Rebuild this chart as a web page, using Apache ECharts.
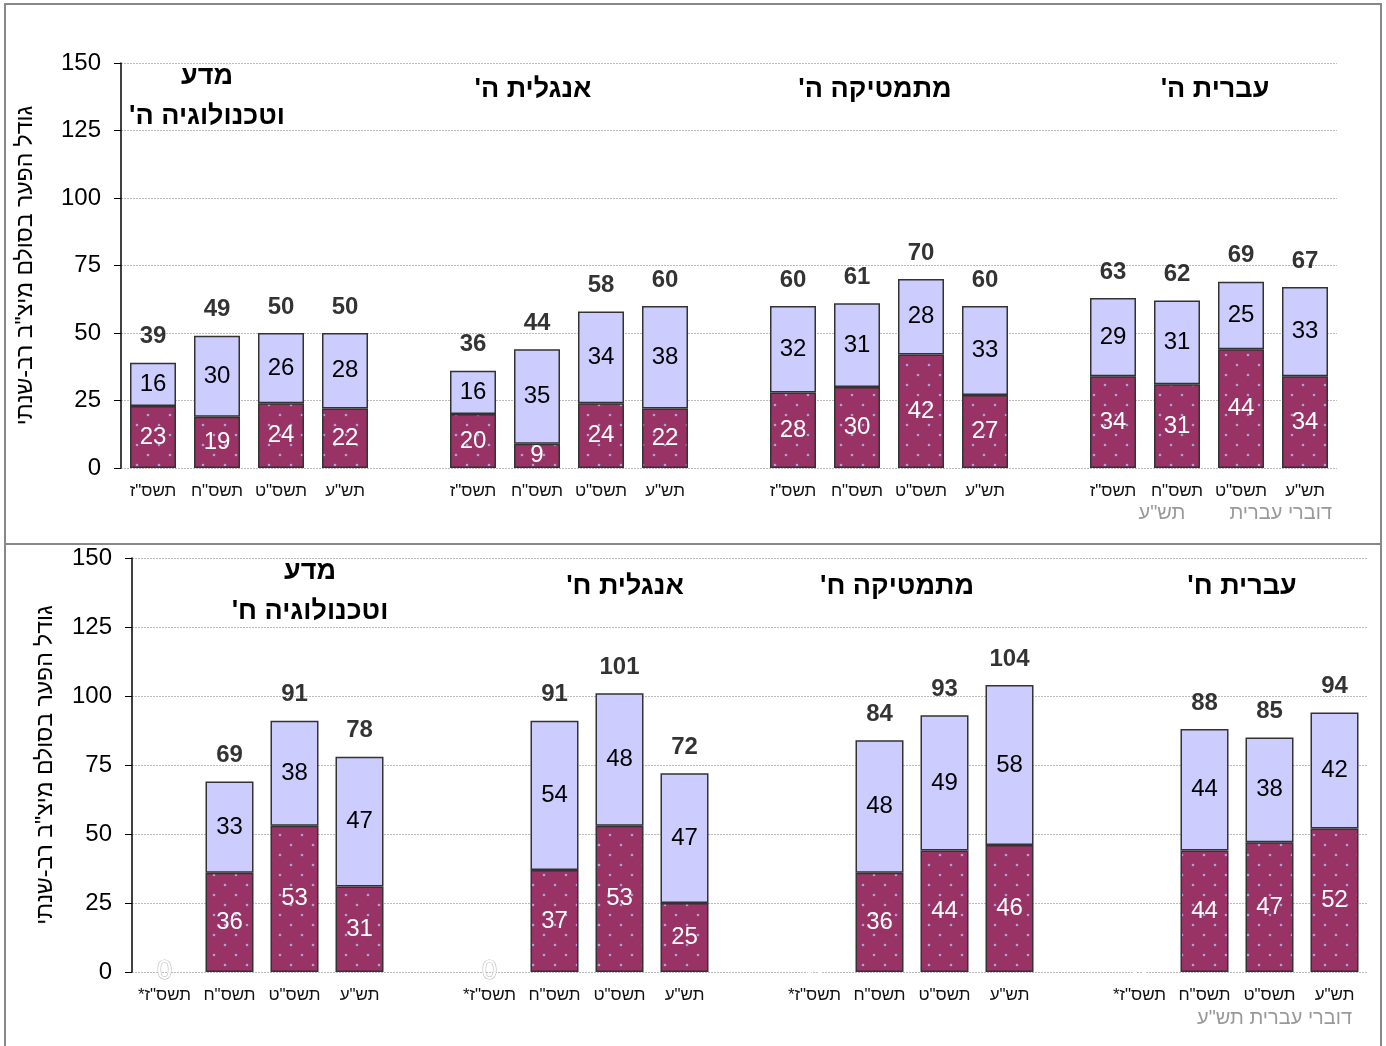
<!DOCTYPE html>
<html><head><meta charset="utf-8">
<script src="https://cdn.jsdelivr.net/npm/echarts@6/dist/echarts.min.js"></script>
<style>html,body{margin:0;padding:0;background:#fff}#c{width:1386px;height:1046px}</style>
</head><body><div id="c"></div>
<script>
const RLM = '\u200F';
// ---- data ----
const yearsTop = ['תשס"ז', 'תשס"ח', 'תשס"ט', 'תש"ע'];
const yearsBottom = ['תשס"ז*', 'תשס"ח', 'תשס"ט', 'תש"ע'];
const groupsTop = ['מדע\nוטכנולוגיה ה\'', 'אנגלית ה\'', 'מתמטיקה ה\'', 'עברית ה\''];
const groupsBottom = ['מדע\nוטכנולוגיה ח\'', 'אנגלית ח\'', 'מתמטיקה ח\'', 'עברית ח\''];
// order of groups left -> right: science, english, math, hebrew
const topLower = [[23, 19, 24, 22], [20, 9, 24, 22], [28, 30, 42, 27], [34, 31, 44, 34]];
const topUpper = [[16, 30, 26, 28], [16, 35, 34, 38], [32, 31, 28, 33], [29, 31, 25, 33]];
const topTotals = [[39, 49, 50, 50], [36, 44, 58, 60], [60, 61, 70, 60], [63, 62, 69, 67]];
const botLower = [[0, 36, 53, 31], [0, 37, 53, 25], [0, 36, 44, 46], [0, 44, 47, 52]];
const botUpper = [[null, 33, 38, 47], [null, 54, 48, 47], [null, 48, 49, 58], [null, 44, 38, 42]];
const botTotals = [[null, 69, 91, 78], [null, 91, 101, 72], [null, 84, 93, 104], [null, 88, 85, 94]];
const yTicks = [0, 25, 50, 75, 100, 125, 150];
const yName = 'גודל הפער בסולם מיצ"ב רב-שנתי';
const note = 'דוברי עברית';
const noteYear = 'תש"ע';

// ---- helpers ----
function flat(groups) {
  const out = [];
  groups.forEach((g, i) => { g.forEach(v => out.push(v)); if (i < groups.length - 1) out.push(null); });
  return out;
}
function cats(years) {
  const out = [];
  for (let i = 0; i < 4; i++) { years.forEach(y => out.push(y + RLM)); if (i < 3) out.push(''); }
  return out;
}
const pc = document.createElement('canvas');
pc.width = 22; pc.height = 20;
(function () {
  const g = pc.getContext('2d');
  g.fillStyle = '#993366'; g.fillRect(0, 0, 22, 20);
  g.fillStyle = '#a7a3dc';
  [[5, 5], [16, 15]].forEach(p => { g.beginPath(); g.arc(p[0], p[1], 1.3, 0, Math.PI * 2); g.fill(); });
})();
const maroon = { image: pc, repeat: 'repeat' };
const FONT = "'Liberation Sans', Arial, sans-serif";

function makeSeries(idx, lower, upper, totals, barW, zeroStyle) {
  const lowData = flat(lower).map((v, i) => {
    if (v === 0) {
      const grp = Math.floor(i / 5);
      return { value: v, itemStyle: { borderWidth: 0 },
        label: { color: '#fff', fontSize: 27, textBorderColor: zeroStyle[grp] ? '#bbb' : '#fff', textBorderWidth: 1.2 } };
    }
    return v;
  });
  return [
    { type: 'bar', xAxisIndex: idx, yAxisIndex: idx, stack: 's' + idx, barWidth: barW, data: lowData,
      itemStyle: { color: maroon, borderColor: '#333', borderWidth: 1.5 },
      label: { show: true, position: 'inside', color: '#fff', fontSize: 24, fontFamily: FONT } },
    { type: 'bar', xAxisIndex: idx, yAxisIndex: idx, stack: 's' + idx, barWidth: barW, data: flat(upper),
      itemStyle: { color: '#ccccff', borderColor: '#333', borderWidth: 1.5 },
      label: { show: true, position: 'inside', color: '#000', fontSize: 24, fontFamily: FONT } },
    { type: 'scatter', xAxisIndex: idx, yAxisIndex: idx, symbolSize: 0, z: 5, data: flat(totals),
      label: { show: true, position: 'top', distance: 14, color: '#000', fontSize: 24, fontWeight: 'bold', fontFamily: FONT } }
  ];
}

function yAxis(idx, gap) {
  return {
    gridIndex: idx, type: 'value', min: yTicks[0], max: yTicks[yTicks.length - 1], interval: 25,
    name: yName, nameLocation: 'middle', nameGap: gap, nameRotate: 90,
    nameTextStyle: { fontSize: 23, fontFamily: FONT, color: '#000' },
    axisLine: { show: true, lineStyle: { color: '#000', width: 1.5 } },
    axisTick: { show: true, length: 7, lineStyle: { color: '#000' } },
    axisLabel: { fontSize: 24, color: '#000', fontFamily: FONT, margin: 20 },
    splitLine: { show: true, lineStyle: { color: '#bbb', type: [2, 1], width: 1 } }
  };
}
function xAxis(idx, years) {
  return {
    gridIndex: idx, type: 'category', data: cats(years),
    axisLine: { show: false }, axisTick: { show: false },
    axisLabel: { interval: 0, fontSize: 17, color: '#111', fontFamily: FONT, margin: 15 }
  };
}
function titleText(x, y, t) {
  return { type: 'text', z: 10, style: { text: t.replace(/'/g, "'" + RLM), x: x, y: y, align: 'center', verticalAlign: 'middle', font: "bold 27px " + FONT, fill: '#000', lineHeight: 40 } };
}

const chart = echarts.init(document.getElementById('c'), null, { renderer: 'canvas' });
chart.setOption({
  animation: false,
  grid: [
    { left: 121, right: 49, top: 63, bottom: 578 },
    { left: 132, right: 19, top: 558, bottom: 74 }
  ],
  xAxis: [xAxis(0, yearsTop), xAxis(1, yearsBottom)],
  yAxis: [yAxis(0, 84), yAxis(1, 75)],
  series: [].concat(
    makeSeries(0, topLower, topUpper, topTotals, 46, [false, false, false, false]),
    makeSeries(1, botLower, botUpper, botTotals, 48, [true, true, false, false])
  ),
  graphic: [
    { type: 'rect', shape: { x: 5, y: 4, width: 1376, height: 1060 }, style: { fill: 'none', stroke: '#888', lineWidth: 2 } },
    { type: 'line', shape: { x1: 5, y1: 544, x2: 1381, y2: 544 }, style: { stroke: '#888', lineWidth: 2 } },
    titleText(207, 97, groupsTop[0]),
    titleText(533, 90, groupsTop[1]),
    titleText(875, 90, groupsTop[2]),
    titleText(1215, 90, groupsTop[3]),
    titleText(310, 592, groupsBottom[0]),
    titleText(625, 587, groupsBottom[1]),
    titleText(897, 587, groupsBottom[2]),
    titleText(1242, 587, groupsBottom[3]),
    { type: 'text', style: { text: note, x: 1332, y: 513, align: 'right', verticalAlign: 'middle', font: "20px " + FONT, fill: '#999' } },
    { type: 'text', style: { text: noteYear, x: 1162, y: 513, align: 'center', verticalAlign: 'middle', font: "20px " + FONT, fill: '#999' } },
    { type: 'text', style: { text: note + ' ' + noteYear, x: 1352, y: 1018, align: 'right', verticalAlign: 'middle', font: "20px " + FONT, fill: '#999' } }
  ]
});
</script></body></html>
